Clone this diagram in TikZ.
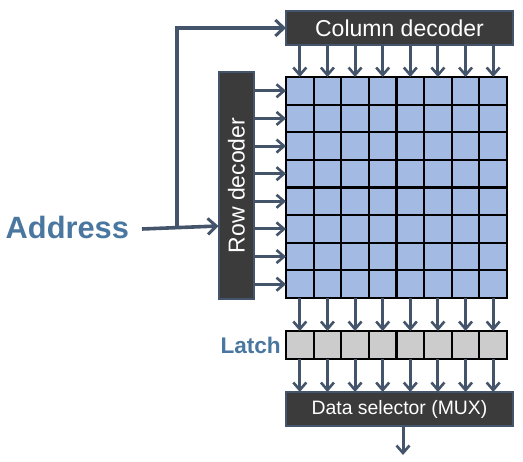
\documentclass[tikz,border=0pt]{standalone}
\usepackage{fontspec}
\setmainfont{Liberation Sans}
\usepackage{graphicx}
\usetikzlibrary{arrows.meta}
\definecolor{arr}{HTML}{44546A}
\definecolor{boxgray}{HTML}{3B3B3B}
\definecolor{cellblue}{HTML}{A3BAE3}
\definecolor{latchgray}{HTML}{CCCCCC}
\definecolor{labelblue}{HTML}{4A77A0}
\tikzset{
  arrowline/.style={draw=arr, line width=3pt, -{Straight Barb[length=7.5pt,width=13pt,line width=2.6pt]}},
  bigarrow/.style={draw=arr, line width=3.6pt, -{Straight Barb[length=8.5pt,width=16pt,line width=3pt]}},
  darkbox/.style={draw=arr, fill=boxgray, line width=1.8pt, text=white, inner sep=0pt, outer sep=0pt},
  cell/.style={draw=black, fill=cellblue, line width=2.2pt, minimum size=27.625pt, inner sep=0pt, outer sep=0pt},
  latchcell/.style={cell, fill=latchgray, minimum height=28pt},
  sidelabel/.style={text=labelblue, font=\bfseries}
}
\begin{document}
\begin{tikzpicture}[x=1pt,y=-1pt]
\useasboundingbox (0,0) rectangle (523,462);
% decoders
\node[darkbox, minimum width=227pt, minimum height=34pt, font=\fontsize{23}{23}\selectfont] (coldec) at (399.5,28) {Column decoder};
\node[darkbox, minimum width=35pt, minimum height=227pt, font=\fontsize{23}{23}\selectfont] (rowdec) at (236.5,185.5) {\rotatebox{90}{Row decoder}};
\node[darkbox, minimum width=227pt, minimum height=34pt, font=\fontsize{19.4}{19.4}\selectfont] (mux) at (399.5,409) {Data selector (MUX)};
% cell array
\foreach \i in {0,...,7} {
  \foreach \j in {0,...,7} {
    \node[cell] (c\i\j) at ({299.8125+27.625*\j},{90.8125+27.625*\i}) {};
  }
}
% latch
\foreach \j in {0,...,7} {
  \node[latchcell] (l\j) at ({299.8125+27.625*\j},345) {};
}
% labels
\node[sidelabel, anchor=base west, inner sep=0pt, font=\bfseries\fontsize{30.8}{30.8}\selectfont] (addr) at (5.5,239) {Address};
\node[sidelabel, anchor=base east, inner sep=0pt, font=\bfseries\fontsize{22.6}{22.6}\selectfont] (latch) at (281,354) {Latch};
% arrows
\foreach \j in {0,...,7} {
  \draw[arrowline] (coldec.south -| c0\j) -- (c0\j.north);
  \draw[arrowline] (c7\j.south) -- (l\j.north);
  \draw[arrowline] (l\j.south) -- (mux.north -| l\j);
}
\foreach \i in {0,...,7} {
  \draw[arrowline] (rowdec.east |- c\i0) -- (c\i0.west);
}
\coordinate (astart) at (142,229);
\coordinate (aend) at (218.5,226);
\coordinate (br) at (177,227.5);
\coordinate (out) at (403,455);
\draw[bigarrow] (astart) -- (aend);
\draw[bigarrow] (br) |- (coldec.west);
\draw[arrowline] (mux.south -| out) -- (out);
\end{tikzpicture}
\end{document}
